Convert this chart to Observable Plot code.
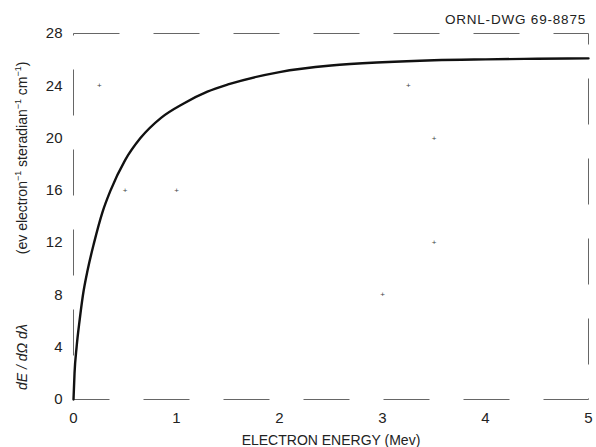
<!DOCTYPE html>
<html><head><meta charset="utf-8">
<script src="https://cdn.jsdelivr.net/npm/d3@7"></script>
<script src="https://cdn.jsdelivr.net/npm/@observablehq/plot@0.6"></script>
<style>body{margin:0;background:#fff;} svg{display:block;}</style>
</head><body><div id="chart"></div>
<script>
// Electron energy (MeV) and dE/dΩdλ
const energy   = [0, 0.01, 0.03, 0.06, 0.09, 0.14, 0.2, 0.28, 0.36, 0.5, 0.65, 0.85, 1.07, 1.3, 1.5, 2.0, 2.5, 3.0, 3.5, 4.0, 4.5, 5.0];
const dEdOmega = [0, 2, 4, 6.1, 7.9, 10, 12, 14.3, 16, 18.3, 20, 21.55, 22.65, 23.55, 24.1, 25.05, 25.55, 25.8, 25.95, 26.02, 26.07, 26.1];
// small grid crosses scattered in the original drawing
const crossE = [0.25, 0.5, 1.0, 3.25, 3.5, 3.0, 3.5];
const crossV = [24, 16, 16, 24, 20, 8, 12];
const xTicks = [0, 1, 2, 3, 4, 5];
const yTicks = [0, 4, 8, 12, 16, 20, 24, 28];

const curve = energy.map((e, i) => ({e, v: dEdOmega[i]}));
const crosses = crossE.map((e, i) => ({e, v: crossV[i]}));

const W = 596, H = 447;
const chart = Plot.plot({
  width: W, height: H,
  marginLeft: 73, marginRight: 8, marginTop: 33, marginBottom: 48,
  style: {fontFamily: "'Liberation Sans', Arial, sans-serif", fontSize: "15px", color: "#222", background: "#fff"},
  x: {domain: [0, 5], ticks: xTicks, tickFormat: "d", tickSize: 0, tickPadding: 13, label: null},
  y: {domain: [0, 28], ticks: yTicks, tickFormat: "d", tickSize: 0, tickPadding: 11, label: null},
  marks: [
    Plot.frame({stroke: "#666", strokeWidth: 1, strokeDasharray: "46,34"}),
    Plot.text(crosses, {x: "e", y: "v", text: () => "+", fontSize: 8, fill: "#444"}),
    Plot.line(curve, {x: "e", y: "v", stroke: "#111", strokeWidth: 2.4, curve: "monotone-x"})
  ]
});
document.getElementById("chart").appendChild(chart);

const svg = d3.select(chart);
const ff = "'Liberation Sans', Arial, sans-serif";
// x axis title
svg.append("text").attr("x", 331).attr("y", 445).attr("text-anchor", "middle")
  .attr("font-family", ff).attr("font-size", 14).attr("fill", "#222")
  .text("ELECTRON ENERGY (Mev)");
// drawing number
svg.append("text").attr("x", 586).attr("y", 24).attr("text-anchor", "end")
  .attr("font-family", ff).attr("font-size", 13.5).attr("letter-spacing", 0.8).attr("fill", "#222")
  .text("ORNL-DWG 69-8875");
// y axis title with italic symbol and superscripts
const yl = svg.append("text").attr("transform", "translate(27,390) rotate(-90)")
  .attr("text-anchor", "start").attr("font-family", ff).attr("font-size", 14).attr("fill", "#222");
yl.append("tspan").attr("font-style", "italic").text("dE / dΩ dλ");
yl.append("tspan").attr("dx", 70).text("(ev electron");
yl.append("tspan").attr("font-size", 9).attr("dy", -6).text("−1");
yl.append("tspan").attr("dy", 6).text(" steradian");
yl.append("tspan").attr("font-size", 9).attr("dy", -6).text("−1");
yl.append("tspan").attr("dy", 6).text(" cm");
yl.append("tspan").attr("font-size", 9).attr("dy", -6).text("−1");
yl.append("tspan").attr("dy", 6).text(")");
</script>
</body></html>
